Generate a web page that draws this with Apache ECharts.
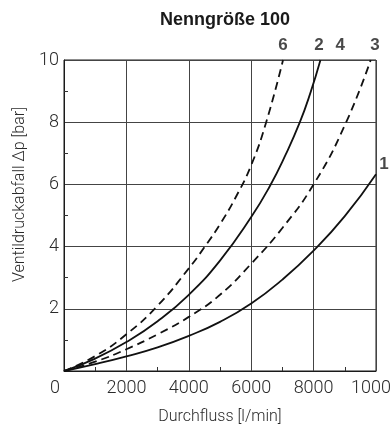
<!DOCTYPE html>
<html>
<head>
<meta charset="utf-8">
<script src="https://cdn.jsdelivr.net/npm/echarts@6/dist/echarts.min.js"></script>
<style>
  html, body { margin: 0; padding: 0; background: #fff; }
  #chart { width: 390px; height: 428px; }
</style>
</head>
<body>
<div id="chart"></div>
<script>
// ---- Data ----
const titleText = 'Nenngröße 100';
const xAxisName = 'Durchfluss [l/min]';
const yAxisName = 'Ventildruckabfall Δp [bar]';

const xTicks = [0, 2000, 4000, 6000, 8000, 10000];
const yTicks = [0, 2, 4, 6, 8, 10];

// Curve 1 (solid, lowest)
const flow1 = [0, 1000, 2000, 3000, 4000, 5000, 6000, 7000, 8000, 9000, 10000];
const dp1   = [0, 0.22, 0.47, 0.76, 1.13, 1.58, 2.17, 2.94, 3.87, 4.98, 6.33];

// Curve 2 (solid, steep)
const flow2 = [0, 1000, 2000, 3000, 4000, 5000, 6000, 6600, 7100, 7560, 7900, 8220];
const dp2   = [0, 0.4, 0.93, 1.6, 2.45, 3.55, 4.95, 5.95, 6.95, 8.0, 8.95, 10];

// Curve 3 (dashed, lower)
const flow3 = [0, 1000, 2000, 3000, 4000, 5000, 6000, 7000, 8000, 9000, 9830];
const dp3   = [0, 0.3, 0.7, 1.18, 1.74, 2.45, 3.45, 4.6, 6.0, 7.9, 10];

// Curve 6 (dashed, steepest)
const flow6 = [0, 1000, 2000, 3000, 4000, 4500, 5000, 5500, 6000, 6480, 7020];
const dp6   = [0, 0.48, 1.18, 2.1, 3.3, 3.98, 4.72, 5.58, 6.62, 8.0, 10];

// Curve labels (anchors in data units)
const curveLabelNames = ['6', '2', '4', '3', '1'];
const curveLabelFlow  = [7020, 8170, 8850, 9970, 10000];
const curveLabelDp    = [10, 10, 10, 10, 6.33];

// ---- Build ----
function pairs(xs, ys) { return xs.map((x, i) => [x, ys[i]]); }

const tickFont = { fontFamily: 'Roboto', fontWeight: 300, fontSize: 18, color: '#2a2a2a' };

const lineBase = { type: 'line', showSymbol: false, symbol: 'none', smooth: 0.5, silent: true, animation: false };

const labelData = curveLabelNames.map((n, i) => {
  const item = { value: [curveLabelFlow[i], curveLabelDp[i]], name: n };
  if (n === '1') {
    item.label = { position: 'inside', offset: [8, -10] };
  }
  return item;
});

const chart = echarts.init(document.getElementById('chart'), null, { renderer: 'canvas' });
chart.setOption({
  animation: false,
  backgroundColor: '#ffffff',
  title: {
    text: titleText,
    left: 220,
    top: 6,
    textAlign: 'center',
    textStyle: { fontFamily: 'Liberation Sans', fontWeight: 'bold', fontSize: 18, color: '#1a1a1a' }
  },
  grid: {
    left: 64, right: 14, top: 60, bottom: 57,
    containLabel: false,
    outerBoundsMode: 'none',
    show: true, borderColor: '#1a1a1a', borderWidth: 1, backgroundColor: 'transparent'
  },
  xAxis: {
    type: 'value',
    min: xTicks[0], max: xTicks[xTicks.length - 1], interval: xTicks[1] - xTicks[0],
    name: xAxisName, nameLocation: 'middle', nameGap: 38,
    nameTextStyle: { fontFamily: 'Roboto', fontWeight: 300, fontSize: 16, color: '#2a2a2a' },
    axisLine: { show: true, lineStyle: { color: '#1a1a1a', width: 1 } },
    axisTick: { show: true, inside: true, length: 0 },
    minorTick: { show: true, splitNumber: 2, length: 4, lineStyle: { color: '#333', width: 1 } },
    splitLine: { show: true, lineStyle: { color: '#444', width: 1 } },
    axisLabel: Object.assign({}, tickFont, {
      margin: 8,
      showMinLabel: true, showMaxLabel: true, hideOverlap: false,
      formatter: v => (v === 0 ? '{z|0}' : String(v)),
      rich: { z: Object.assign({}, tickFont, { padding: [0, 18, 0, 0] }) }
    })
  },
  yAxis: {
    type: 'value',
    min: yTicks[0], max: yTicks[yTicks.length - 1], interval: yTicks[1] - yTicks[0],
    name: yAxisName, nameLocation: 'middle', nameGap: 36,
    nameTextStyle: { fontFamily: 'Roboto', fontWeight: 300, fontSize: 16, color: '#2a2a2a', padding: [0, 0, 0, 42] },
    axisLine: { show: true, lineStyle: { color: '#1a1a1a', width: 1 } },
    axisTick: { show: true, inside: true, length: 0 },
    minorTick: { show: true, splitNumber: 2, length: 4, lineStyle: { color: '#333', width: 1 } },
    splitLine: { show: true, lineStyle: { color: '#444', width: 1 } },
    axisLabel: Object.assign({}, tickFont, {
      margin: 5,
      showMinLabel: false,
      formatter: v => String(v)
    })
  },
  series: [
    Object.assign({}, lineBase, { name: '1', data: pairs(flow1, dp1), lineStyle: { color: '#111', width: 1.8, type: 'solid' } }),
    Object.assign({}, lineBase, { name: '2', data: pairs(flow2, dp2), lineStyle: { color: '#111', width: 1.8, type: 'solid' } }),
    Object.assign({}, lineBase, { name: '3', data: pairs(flow3, dp3), lineStyle: { color: '#111', width: 1.8, type: [8, 5] } }),
    Object.assign({}, lineBase, { name: '6', data: pairs(flow6, dp6), lineStyle: { color: '#111', width: 1.8, type: [8, 5] } }),
    {
      type: 'scatter',
      name: 'labels',
      data: labelData,
      symbolSize: 0,
      clip: false,
      silent: true,
      animation: false,
      label: {
        show: true,
        position: 'top',
        distance: 6,
        formatter: p => p.name,
        fontFamily: 'Liberation Sans', fontWeight: 'bold', fontSize: 17, color: '#1a1a1a'
      }
    }
  ]
});
</script>
</body>
</html>
